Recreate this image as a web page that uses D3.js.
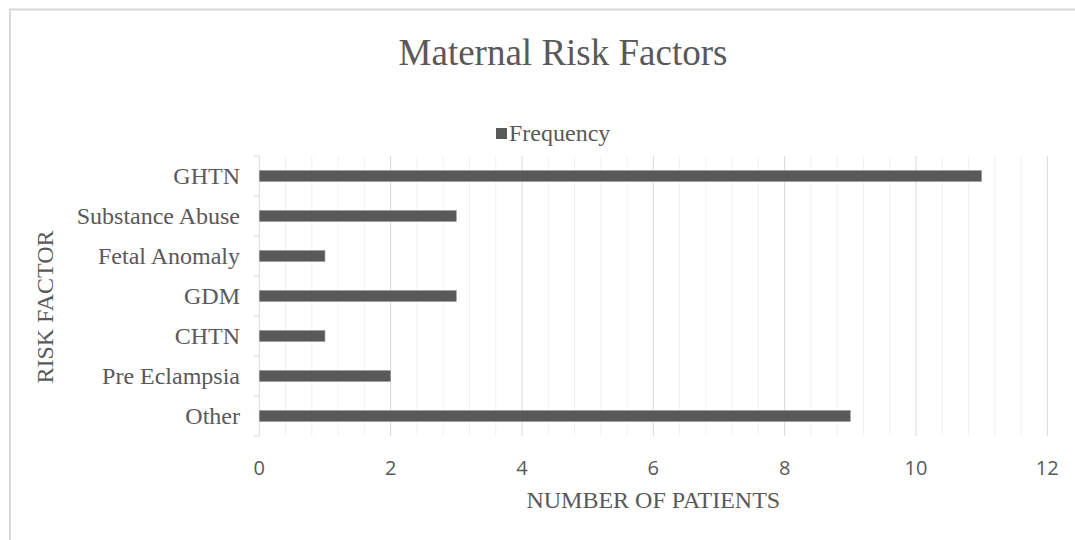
<!DOCTYPE html>
<html>
<head>
<meta charset="utf-8">
<script src="https://cdn.jsdelivr.net/npm/d3@7"></script>
<style>
  body { margin: 0; background: #fff; }
  svg { display: block; }
</style>
</head>
<body>
<div id="chart"></div>
<script>
  // data, top to bottom as drawn
  const categories = ["GHTN", "Substance Abuse", "Fetal Anomaly", "GDM", "CHTN", "Pre Eclampsia", "Other"];
  const frequency = [11, 3, 1, 3, 1, 2, 9];
  const xTicks = [0, 2, 4, 6, 8, 10, 12];

  const W = 1075, H = 540;
  const plot = { left: 259.3, right: 1047.3, top: 156, bottom: 436 };
  const serif = "'Liberation Serif', 'Times New Roman', serif";
  const textColor = "#595959";

  const svg = d3
    .select("#chart")
    .append("svg")
    .attr("width", W)
    .attr("height", H);

  // chart border (runs off the right / bottom edge)
  svg.append("rect")
    .attr("x", 10)
    .attr("y", 9.5)
    .attr("width", 1120)
    .attr("height", 560)
    .attr("fill", "#fff")
    .attr("stroke", "#d9d9d9")
    .attr("stroke-width", 2);

  const x = d3.scaleLinear().domain([0, 12]).range([plot.left, plot.right]);
  const y = d3
    .scaleBand()
    .domain(categories)
    .range([plot.top, plot.bottom])
    .paddingInner(0.725)
    .paddingOuter(0.3625);

  // gridlines: minor every 0.4, major every 2
  const minor = d3.range(1, 31).map((i) => i * 0.4).filter((v) => Math.abs(v / 2 - Math.round(v / 2)) > 1e-6);
  svg.append("g")
    .selectAll("line")
    .data(minor)
    .join("line")
    .attr("x1", (d) => x(d))
    .attr("x2", (d) => x(d))
    .attr("y1", plot.top)
    .attr("y2", plot.bottom)
    .attr("stroke", "#f0f0f0")
    .attr("stroke-width", 1);

  svg.append("g")
    .selectAll("line")
    .data(xTicks.slice(1))
    .join("line")
    .attr("x1", (d) => x(d))
    .attr("x2", (d) => x(d))
    .attr("y1", plot.top)
    .attr("y2", plot.bottom)
    .attr("stroke", "#d9d9d9")
    .attr("stroke-width", 1);

  // left axis line + tick marks at band boundaries
  svg.append("line")
    .attr("x1", x(0))
    .attr("x2", x(0))
    .attr("y1", plot.top)
    .attr("y2", plot.bottom)
    .attr("stroke", "#d9d9d9")
    .attr("stroke-width", 1);

  const step = y.step();
  svg.append("g")
    .selectAll("line")
    .data(d3.range(categories.length + 1))
    .join("line")
    .attr("x1", x(0) - 6)
    .attr("x2", x(0))
    .attr("y1", (i) => plot.top + i * step)
    .attr("y2", (i) => plot.top + i * step)
    .attr("stroke", "#d9d9d9")
    .attr("stroke-width", 1);

  // bars
  svg.append("g")
    .selectAll("rect")
    .data(categories)
    .join("rect")
    .attr("x", x(0))
    .attr("y", (d) => y(d))
    .attr("width", (d, i) => x(frequency[i]) - x(0))
    .attr("height", y.bandwidth())
    .attr("fill", "#595959")
    .attr("stroke", "#9a9a9a")
    .attr("stroke-width", 0.6);

  // category labels
  svg.append("g")
    .selectAll("text")
    .data(categories)
    .join("text")
    .attr("x", 240)
    .attr("y", (d) => y(d) + y.bandwidth() / 2)
    .attr("dy", "0.33em")
    .attr("text-anchor", "end")
    .attr("font-family", serif)
    .attr("font-size", "24px")
    .attr("fill", textColor)
    .text((d) => d);

  // x tick labels
  svg.append("g")
    .selectAll("text")
    .data(xTicks)
    .join("text")
    .attr("x", (d) => x(d))
    .attr("y", 475)
    .attr("text-anchor", "middle")
    .attr("font-family", "'Open Sans', sans-serif")
    .attr("font-size", "20px")
    .attr("fill", textColor)
    .text((d) => d);

  // titles
  svg.append("text")
    .attr("x", 563)
    .attr("y", 65)
    .attr("text-anchor", "middle")
    .attr("font-family", serif)
    .attr("font-size", "37px")
    .attr("fill", textColor)
    .text("Maternal Risk Factors");

  svg.append("text")
    .attr("x", (plot.left + plot.right) / 2)
    .attr("y", 508)
    .attr("text-anchor", "middle")
    .attr("font-family", serif)
    .attr("font-size", "24px")
    .attr("fill", textColor)
    .text("NUMBER OF PATIENTS");

  svg.append("text")
    .attr("transform", "translate(53,307) rotate(-90)")
    .attr("text-anchor", "middle")
    .attr("font-family", serif)
    .attr("font-size", "24px")
    .attr("fill", textColor)
    .text("RISK FACTOR");

  // legend
  svg.append("rect")
    .attr("x", 496)
    .attr("y", 128)
    .attr("width", 11)
    .attr("height", 11)
    .attr("fill", "#595959");

  svg.append("text")
    .attr("x", 509)
    .attr("y", 141)
    .attr("font-family", serif)
    .attr("font-size", "24px")
    .attr("fill", textColor)
    .text("Frequency");
</script>
</body>
</html>
